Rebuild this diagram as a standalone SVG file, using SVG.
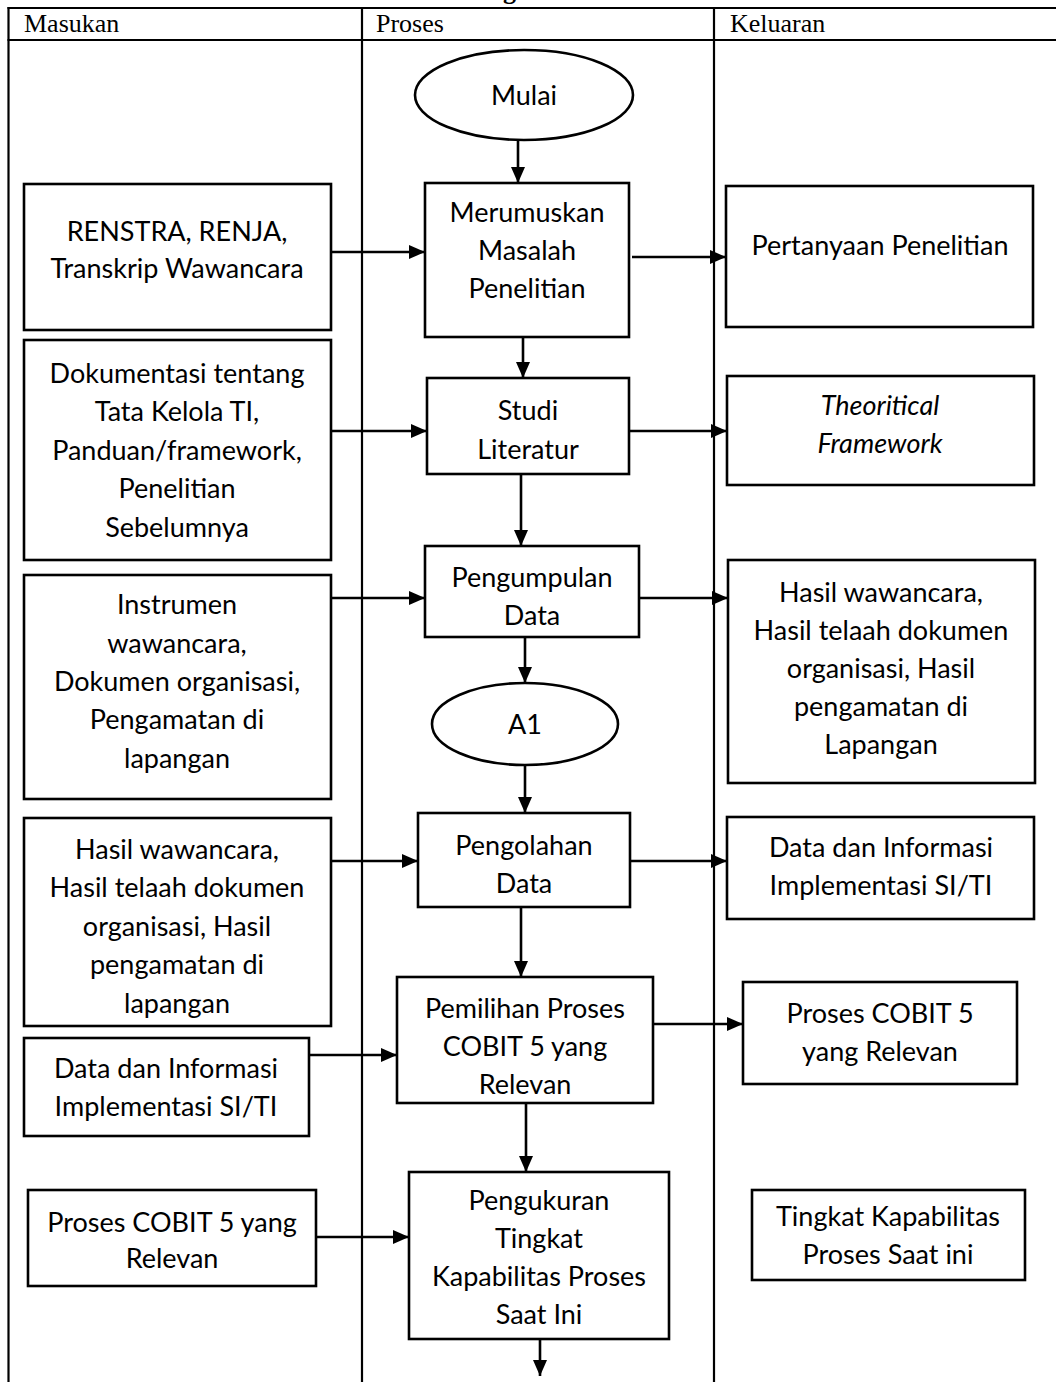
<svg xmlns="http://www.w3.org/2000/svg" width="1056" height="1382" viewBox="0 0 1056 1382">
<style>
.tbl{stroke:#000;stroke-width:2.2;fill:none}
.hd{font-family:"Liberation Serif",serif;font-size:26px;fill:#000}
.box{fill:#fff;stroke:#000;stroke-width:2.6}
.t{font-family:Lato,"Liberation Sans",sans-serif;font-size:27px;fill:#000;text-anchor:middle}
.it{font-style:italic}
.c{stroke:#000;stroke-width:2.6;fill:none;marker-end:url(#ah)}
</style>
<defs>
<marker id="ah" markerWidth="16" markerHeight="14" refX="16" refY="7" orient="auto" markerUnits="userSpaceOnUse"><path d="M0,0 L16,7 L0,14 z" fill="#000"/></marker>
</defs>
<rect width="1056" height="1382" fill="#fff"/>
<g id="table">
<text x="503" y="-1" style="font-family:'Liberation Serif',serif;font-size:26px;font-weight:bold">g</text>
<line class="tbl" x1="7.5" y1="8" x2="1056" y2="8"/>
<line class="tbl" x1="7.5" y1="40" x2="1056" y2="40"/>
<line class="tbl" x1="8.5" y1="7" x2="8.5" y2="1382"/>
<line class="tbl" x1="362" y1="7" x2="362" y2="1382"/>
<line class="tbl" x1="714" y1="7" x2="714" y2="1382"/>
<text class="hd" x="24" y="32">Masukan</text>
<text class="hd" x="376" y="32">Proses</text>
<text class="hd" x="730" y="32">Keluaran</text>
</g>
<g id="connectors">
<line class="c" x1="518" y1="140" x2="518" y2="183"/>
<line class="c" x1="523" y1="337" x2="523" y2="378"/>
<line class="c" x1="521" y1="474" x2="521" y2="546"/>
<line class="c" x1="525" y1="637" x2="525" y2="683"/>
<line class="c" x1="525" y1="765" x2="525" y2="813"/>
<line class="c" x1="521" y1="907" x2="521" y2="977"/>
<line class="c" x1="526" y1="1103" x2="526" y2="1172"/>
<line class="c" x1="540" y1="1339" x2="540" y2="1376"/>
<line class="c" x1="331" y1="252" x2="425" y2="252"/>
<line class="c" x1="632" y1="257" x2="726" y2="257"/>
<line class="c" x1="331" y1="431" x2="427" y2="431"/>
<line class="c" x1="629" y1="431" x2="727" y2="431"/>
<line class="c" x1="331" y1="598" x2="425" y2="598"/>
<line class="c" x1="639" y1="598" x2="728" y2="598"/>
<line class="c" x1="331" y1="861" x2="418" y2="861"/>
<line class="c" x1="630" y1="861" x2="727" y2="861"/>
<line class="c" x1="309" y1="1055" x2="397" y2="1055"/>
<line class="c" x1="653" y1="1024" x2="743" y2="1024"/>
<line class="c" x1="316" y1="1237" x2="409" y2="1237"/>
</g>
<g id="mulai"><ellipse class="box" cx="524" cy="95" rx="109" ry="45"/><text class="t" x="524" y="105">Mulai</text></g>
<g id="merumuskan"><rect class="box" x="425" y="183" width="204" height="154"/><text class="t" x="527" y="222">Merumuskan</text><text class="t" x="527" y="260">Masalah</text><text class="t" x="527" y="298">Penelitian</text></g>
<g id="studi"><rect class="box" x="427" y="378" width="202" height="96"/><text class="t" x="528" y="420">Studi</text><text class="t" x="528" y="459">Literatur</text></g>
<g id="pengumpulan"><rect class="box" x="425" y="546" width="214" height="91"/><text class="t" x="532" y="587">Pengumpulan</text><text class="t" x="532" y="625">Data</text></g>
<g id="a1"><ellipse class="box" cx="525" cy="724" rx="93" ry="41"/><text class="t" x="525" y="734">A1</text></g>
<g id="pengolahan"><rect class="box" x="418" y="813" width="212" height="94"/><text class="t" x="524" y="855">Pengolahan</text><text class="t" x="524" y="893">Data</text></g>
<g id="pemilihan"><rect class="box" x="397" y="977" width="256" height="126"/><text class="t" x="525" y="1018">Pemilihan Proses</text><text class="t" x="525" y="1056">COBIT 5 yang</text><text class="t" x="525" y="1094">Relevan</text></g>
<g id="pengukuran"><rect class="box" x="409" y="1172" width="260" height="167"/><text class="t" x="539" y="1210">Pengukuran</text><text class="t" x="539" y="1248">Tingkat</text><text class="t" x="539" y="1286">Kapabilitas Proses</text><text class="t" x="539" y="1324">Saat Ini</text></g>
<g id="in1"><rect class="box" x="24" y="184" width="307" height="146"/><text class="t" x="177" y="241">RENSTRA, RENJA,</text><text class="t" x="177" y="278">Transkrip Wawancara</text></g>
<g id="in2"><rect class="box" x="24" y="340" width="307" height="220"/><text class="t" x="177" y="383">Dokumentasi tentang</text><text class="t" x="177" y="421">Tata Kelola TI,</text><text class="t" x="177" y="460">Panduan/framework,</text><text class="t" x="177" y="498">Penelitian</text><text class="t" x="177" y="537">Sebelumnya</text></g>
<g id="in3"><rect class="box" x="24" y="575" width="307" height="224"/><text class="t" x="177" y="614">Instrumen</text><text class="t" x="177" y="653">wawancara,</text><text class="t" x="177" y="691">Dokumen organisasi,</text><text class="t" x="177" y="729">Pengamatan di</text><text class="t" x="177" y="768">lapangan</text></g>
<g id="in4"><rect class="box" x="24" y="818" width="307" height="208"/><text class="t" x="177" y="859">Hasil wawancara,</text><text class="t" x="177" y="897">Hasil telaah dokumen</text><text class="t" x="177" y="936">organisasi, Hasil</text><text class="t" x="177" y="974">pengamatan di</text><text class="t" x="177" y="1013">lapangan</text></g>
<g id="in5"><rect class="box" x="24" y="1038" width="285" height="98"/><text class="t" x="166" y="1078">Data dan Informasi</text><text class="t" x="166" y="1116">Implementasi SI/TI</text></g>
<g id="in6"><rect class="box" x="28" y="1190" width="288" height="96"/><text class="t" x="172" y="1232">Proses COBIT 5 yang</text><text class="t" x="172" y="1268">Relevan</text></g>
<g id="out1"><rect class="box" x="726" y="186" width="307" height="141"/><text class="t" x="880" y="255">Pertanyaan Penelitian</text></g>
<g id="out2"><rect class="box" x="727" y="376" width="307" height="109"/><text class="t it" x="880" y="415">Theoritical</text><text class="t it" x="880" y="453">Framework</text></g>
<g id="out3"><rect class="box" x="728" y="560" width="307" height="223"/><text class="t" x="881" y="602">Hasil wawancara,</text><text class="t" x="881" y="640">Hasil telaah dokumen</text><text class="t" x="881" y="678">organisasi, Hasil</text><text class="t" x="881" y="716">pengamatan di</text><text class="t" x="881" y="754">Lapangan</text></g>
<g id="out4"><rect class="box" x="727" y="817" width="307" height="102"/><text class="t" x="881" y="857">Data dan Informasi</text><text class="t" x="881" y="895">Implementasi SI/TI</text></g>
<g id="out5"><rect class="box" x="743" y="982" width="274" height="102"/><text class="t" x="880" y="1023">Proses COBIT 5</text><text class="t" x="880" y="1061">yang Relevan</text></g>
<g id="out6"><rect class="box" x="752" y="1190" width="273" height="90"/><text class="t" x="888" y="1226">Tingkat Kapabilitas</text><text class="t" x="888" y="1264">Proses Saat ini</text></g>
</svg>
